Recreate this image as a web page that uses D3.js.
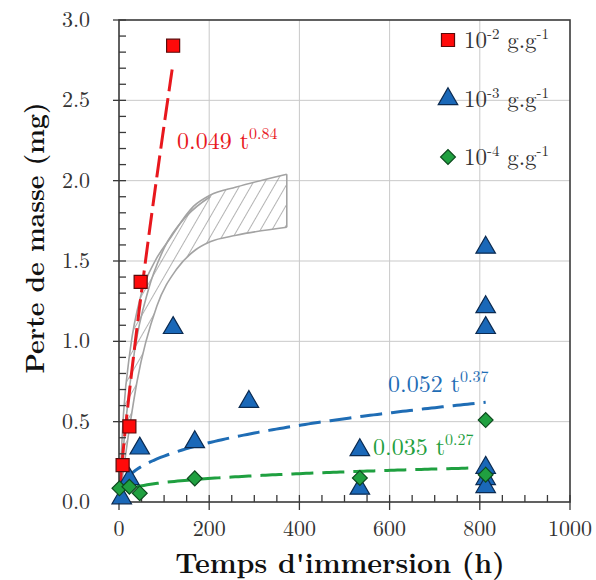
<!DOCTYPE html>
<html>
<head>
<meta charset="utf-8">
<script src="https://cdn.jsdelivr.net/npm/d3@7"></script>
<style>
  body { margin: 0; background: #fff; }
</style>
</head>
<body>
<svg id="chart" width="596" height="580"></svg>
<script>
// data
const red = [[8, 0.23], [23, 0.47], [48, 1.37], [120, 2.84]]
const blue = [[6, 0.03], [23, 0.15], [46, 0.34], [120, 1.09], [168, 0.38], [288, 0.63],
  [534, 0.33], [534, 0.09], [813, 1.59], [813, 1.22], [813, 1.09], [813, 0.22], [813, 0.15], [813, 0.10]]
const green = [[1, 0.085], [23, 0.095], [46, 0.055], [168, 0.147], [534, 0.15], [813, 0.51], [813, 0.17]]

// power-law fits a * t^b, and the t range each is drawn over
const fits = [
  {a: 0.049, b: 0.84, from: 1, to: 118, color: '#e8171d', dash: '22,7', label: '0.049 t', sup: '0.84', lx: 177, ly: 149},
  {a: 0.052, b: 0.37, from: 12, to: 813, color: '#1f6db5', dash: '22,9', label: '0.052 t', sup: '0.37', lx: 388, ly: 392},
  {a: 0.035, b: 0.27, from: 40, to: 790, color: '#1fa040', dash: '22,9', label: '0.035 t', sup: '0.27', lx: 373, ly: 455},
]

// grey envelope
const upperEnv = [[0, 0], [10, 0.55], [25, 0.95], [50, 1.3], [80, 1.5], [113, 1.64], [165, 1.84], [202, 1.91], [260, 1.96], [372, 2.04]]
const lowerEnv = [[0, 0], [20, 0.4], [40, 0.75], [84, 1.22], [128, 1.45], [170, 1.57], [202, 1.62], [260, 1.66], [372, 1.71]]
const midEnv = [[0, 0], [15, 0.5], [35, 0.95], [65, 1.32], [100, 1.58], [150, 1.78], [202, 1.9]]

const legendLabels = [['10', '-2', ' g.g', '-1'], ['10', '-3', ' g.g', '-1'], ['10', '-4', ' g.g', '-1']]

const svg = d3.select('#chart')
const x = d3.scaleLinear().domain([0, 1000]).range([119, 570])
const y = d3.scaleLinear().domain([0, 3]).range([502, 20])
const serif = '"Latin Modern Roman"'

const defs = svg.append('defs')
defs.append('pattern')
    .attr('id', 'hatch')
    .attr('patternUnits', 'userSpaceOnUse')
    .attr('width', 10).attr('height', 10)
    .attr('patternTransform', 'rotate(30)')
  .append('line')
    .attr('x1', 0).attr('y1', 0).attr('x2', 0).attr('y2', 10)
    .attr('stroke', '#8a8a8a').attr('stroke-width', 1.3)
defs.append('clipPath').attr('id', 'plot')
  .append('rect').attr('x', 119).attr('y', 20).attr('width', 451).attr('height', 482)

// grid
const gridColor = '#c9c9c9'
svg.append('g').selectAll('line').data([200, 400, 600, 800]).enter().append('line')
    .attr('x1', d => x(d)).attr('x2', d => x(d)).attr('y1', y(0)).attr('y2', y(3))
    .attr('stroke', gridColor).attr('stroke-width', 1)
svg.append('g').selectAll('line').data([0.5, 1, 1.5, 2, 2.5]).enter().append('line')
    .attr('y1', d => y(d)).attr('y2', d => y(d)).attr('x1', x(0)).attr('x2', x(1000))
    .attr('stroke', gridColor).attr('stroke-width', 1)

// envelope
const envLine = d3.line().x(d => x(d[0])).y(d => y(d[1])).curve(d3.curveMonotoneX)

// sample a monotone curve so the hatched polygon follows the drawn outline
function sample(pts) {
  const tmp = svg.append('path').attr('d', envLine(pts))
  const node = tmp.node()
  const len = node.getTotalLength()
  const out = []
  for (let i = 0; i <= 80; i++) {
    const p = node.getPointAtLength(len * i / 80)
    out.push([x.invert(p.x), y.invert(p.y)])
  }
  tmp.remove()
  return out
}

const env = svg.append('g').attr('clip-path', 'url(#plot)')
env.append('path')
    .attr('d', d3.line().x(d => x(d[0])).y(d => y(d[1]))(
      sample(upperEnv).concat(sample(lowerEnv).reverse())))
    .attr('fill', 'url(#hatch)')
    .attr('stroke', 'none')
;[upperEnv, lowerEnv, midEnv].forEach(pts => {
  env.append('path').attr('d', envLine(pts))
      .attr('fill', 'none').attr('stroke', '#a3a3a3').attr('stroke-width', 1.6)
})
env.append('line')
    .attr('x1', x(372)).attr('x2', x(372)).attr('y1', y(1.71)).attr('y2', y(2.04))
    .attr('stroke', '#a3a3a3').attr('stroke-width', 1.6)

// fit curves
fits.forEach(f => {
  const ts = d3.range(0, 101).map(i => f.from + (f.to - f.from) * i / 100)
  svg.append('path')
      .attr('d', d3.line().x(t => x(t)).y(t => y(f.a * Math.pow(t, f.b)))(ts))
      .attr('fill', 'none').attr('stroke', f.color).attr('stroke-width', 3)
      .attr('stroke-dasharray', f.dash)
  const t = svg.append('text').attr('x', f.lx).attr('y', f.ly)
      .style('font-family', serif)
      .attr('fill', f.color).attr('font-size', 24)
  t.append('tspan').text(f.label)
  t.append('tspan').attr('dy', -10).attr('font-size', 16).text(f.sup)
})

// axes frame
const axisColor = '#3a3a3a'
svg.append('rect').attr('x', 119).attr('y', 20).attr('width', 451).attr('height', 482)
    .attr('fill', 'none').attr('stroke', axisColor).attr('stroke-width', 1.6)

// y ticks
const yMinor = d3.range(0, 31).map(i => i / 10)
svg.append('g').selectAll('line').data(yMinor).enter().append('line')
    .attr('x1', d => (Math.round(d * 10) % 5 === 0) ? x(0) - 6 : x(0))
    .attr('x2', x(0) + 7)
    .attr('y1', d => y(d)).attr('y2', d => y(d))
    .attr('stroke', axisColor).attr('stroke-width', 1.3)
svg.append('g').selectAll('text').data(d3.range(0, 7).map(i => i / 2)).enter().append('text')
    .attr('x', 90).attr('y', d => y(d) + 7)
    .style('font-family', serif)
    .attr('text-anchor', 'end').attr('font-size', 22).attr('fill', '#333')
    .text(d => d3.format('.1f')(d))

// x ticks
const xMinor = d3.range(0, 1001, 50)
svg.append('g').selectAll('line').data(xMinor).enter().append('line')
    .attr('x1', d => x(d)).attr('x2', d => x(d))
    .attr('y1', y(0) - 7)
    .attr('y2', d => d % 200 === 0 ? y(0) + 8 : y(0))
    .attr('stroke', axisColor).attr('stroke-width', 1.3)
svg.append('g').selectAll('text').data(d3.range(0, 1001, 200)).enter().append('text')
    .attr('x', d => x(d)).attr('y', 536)
    .style('font-family', serif)
    .attr('text-anchor', 'middle').attr('font-size', 22).attr('fill', '#333')
    .text(d => d)

// axis titles
svg.append('text').attr('x', 340).attr('y', 573)
    .style('font-family', serif)
    .attr('text-anchor', 'middle').attr('font-size', 28).attr('font-weight', 'bold').attr('fill', '#111')
    .text("Temps d'immersion (h)")
svg.append('text').attr('transform', 'translate(44,238) rotate(-90)')
    .style('font-family', serif)
    .attr('text-anchor', 'middle').attr('font-size', 26).attr('font-weight', 'bold').attr('fill', '#111')
    .text('Perte de masse (mg)')

// markers
const symSquare = d3.symbol().type(d3.symbolSquare).size(170)
const symTri = d3.symbol().type(d3.symbolTriangle).size(165)
const symDiamond = d3.symbol().type(d3.symbolSquare).size(110)

function drawPoints(data, sym, fill, stroke, dy, rot) {
  svg.append('g').selectAll('path').data(data).enter().append('path')
      .attr('d', sym)
      .attr('transform', d => `translate(${x(d[0])},${y(d[1]) + dy}) rotate(${rot})`)
      .attr('fill', fill).attr('stroke', stroke).attr('stroke-width', 1.2)
}
drawPoints(blue, symTri, '#1a68b8', '#0b2a50', 1, 0)
drawPoints(green, symDiamond, '#20a040', '#0d4a1e', 0, 45)
drawPoints(red, symSquare, '#ff0a0a', '#5a0a0a', 0, 0)

// legend
const legendSyms = [[symSquare, '#ff0a0a', '#5a0a0a', 0], [symTri, '#1a68b8', '#0b2a50', 0], [symDiamond, '#20a040', '#0d4a1e', 45]]
const legendY = [40, 99, 157]
legendLabels.forEach((lab, i) => {
  const s = legendSyms[i]
  svg.append('path').attr('d', s[0]).attr('transform', `translate(448,${legendY[i]}) rotate(${s[3]})`)
      .attr('fill', s[1]).attr('stroke', s[2]).attr('stroke-width', 1.2)
  const t = svg.append('text').attr('x', 464).attr('y', legendY[i] + 8)
      .style('font-family', serif)
      .attr('font-size', 23).attr('fill', '#333')
  t.append('tspan').text(lab[0])
  t.append('tspan').attr('dy', -9).attr('font-size', 15).text(lab[1])
  t.append('tspan').attr('dy', 9).text(lab[2])
  t.append('tspan').attr('dy', -9).attr('font-size', 15).text(lab[3])
})
</script>
</body>
</html>
